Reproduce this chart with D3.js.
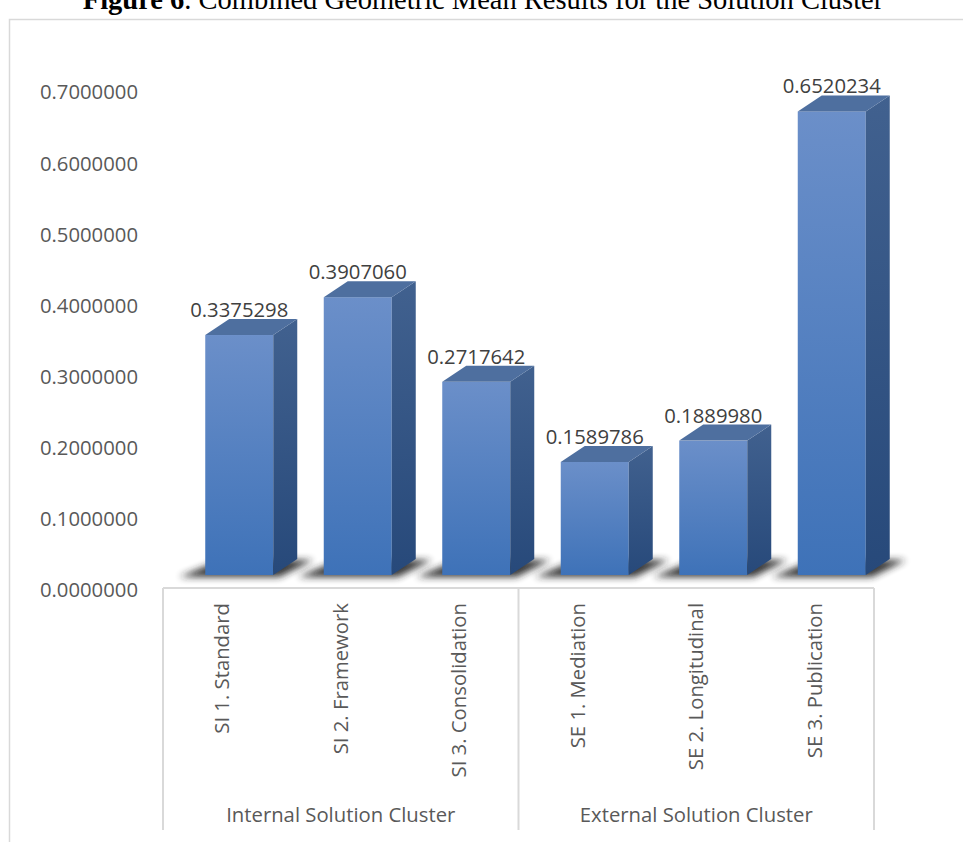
<!DOCTYPE html>
<html>
<head>
<meta charset="utf-8">
<script src="https://cdn.jsdelivr.net/npm/d3@7"></script>
<style>
  html, body { margin: 0; padding: 0; background: #fff; }
  svg { display: block; }
  .lbl { font-family: "Open Sans", Calibri, sans-serif; }
</style>
</head>
<body>
<svg id="chart" width="963" height="842"></svg>
<script>
const categories = ["SI 1. Standard", "SI 2. Framework", "SI 3. Consolidation",
                    "SE 1. Mediation", "SE 2. Longitudinal", "SE 3. Publication"];
const values = [0.3375298, 0.3907060, 0.2717642, 0.1589786, 0.1889980, 0.6520234];
const groups = ["Internal Solution Cluster", "External Solution Cluster"];
const groupOf = [0, 0, 0, 1, 1, 1];
const yTicks = [0, 0.1, 0.2, 0.3, 0.4, 0.5, 0.6, 0.7];

const svg = d3.select('#chart');
const fontSize = '20.3px';

// title, mostly cut off at the top of the picture
const title = svg.append('text')
  .attr('x', 483).attr('y', 9)
  .attr('text-anchor', 'middle')
  .style('font-family', '"Liberation Serif", "Times New Roman", serif')
  .style('font-size', '28.5px')
  .attr('fill', '#000');
title.append('tspan').style('font-weight', 'bold').text('Figure 6');
title.append('tspan').text('. Combined Geometric Mean Results for the Solution Cluster');

// chart frame
svg.append('rect')
  .attr('x', 9.5).attr('y', 19.5)
  .attr('width', 1000).attr('height', 900)
  .attr('fill', 'none').attr('stroke', '#d9d9d9').attr('stroke-width', 1.5);

const x = d3.scaleBand().domain(categories).range([163, 874]).paddingInner(0).paddingOuter(0);
const y = d3.scaleLinear().domain([0, 0.7]).range([590, 92.3]);

// y axis labels
svg.append('g').selectAll('text')
  .data(yTicks)
  .enter().append('text')
  .attr('class', 'lbl')
  .attr('x', 138)
  .attr('y', d => y(d))
  .attr('dy', '0.35em')
  .attr('text-anchor', 'end')
  .style('font-size', fontSize)
  .attr('fill', '#595959')
  .text(d => d3.format('.7f')(d));

// 3D bar geometry
const frontShift = -15;   // front face sits above the label plane
const barW = 68;
const dx = 24, dy = -16;  // depth offset
const off = 17;           // bars drawn right of band centre

const defs = svg.append('defs');
const gFront = defs.append('linearGradient').attr('id', 'gFront')
  .attr('x1', 0).attr('y1', 0).attr('x2', 0).attr('y2', 1);
gFront.append('stop').attr('offset', '0%').attr('stop-color', '#6b8fc9');
gFront.append('stop').attr('offset', '100%').attr('stop-color', '#3e72b8');
const gSide = defs.append('linearGradient').attr('id', 'gSide')
  .attr('x1', 0).attr('y1', 0).attr('x2', 0).attr('y2', 1);
gSide.append('stop').attr('offset', '0%').attr('stop-color', '#41618f');
gSide.append('stop').attr('offset', '100%').attr('stop-color', '#27497a');
defs.append('filter').attr('id', 'blur')
  .attr('x', '-50%').attr('y', '-50%').attr('width', '200%').attr('height', '200%')
  .append('feGaussianBlur').attr('stdDeviation', 3.5);

const bars = categories.map((c, i) => {
  const left = x(c) + x.bandwidth() / 2 + off - barW / 2;
  return {c, v: values[i], left, right: left + barW,
          top: y(values[i]) + frontShift, bottom: y(0) + frontShift};
});

// floor shadows
svg.append('g').selectAll('path')
  .data(bars)
  .enter().append('path')
  .attr('d', b => `M${b.left - 26},${b.bottom + 2} L${b.right + 6},${b.bottom + 2}
                   L${b.right + dx + 16},${b.bottom + dy + 1} L${b.left + dx - 8},${b.bottom + dy + 1}Z`)
  .attr('fill', '#222')
  .attr('opacity', 0.9)
  .attr('filter', 'url(#blur)');

const bar = svg.append('g').selectAll('g')
  .data(bars)
  .enter().append('g');

bar.append('rect')
  .attr('x', b => b.left).attr('y', b => b.top)
  .attr('width', barW).attr('height', b => b.bottom - b.top)
  .attr('fill', 'url(#gFront)');

bar.append('path')
  .attr('d', b => `M${b.right},${b.top} L${b.right + dx},${b.top + dy}
                   L${b.right + dx},${b.bottom + dy} L${b.right},${b.bottom}Z`)
  .attr('fill', 'url(#gSide)');

bar.append('path')
  .attr('d', b => `M${b.left},${b.top} L${b.left + dx},${b.top + dy}
                   L${b.right + dx},${b.top + dy} L${b.right},${b.top}Z`)
  .attr('fill', '#4e6f9f');

// value labels
bar.append('text')
  .attr('class', 'lbl')
  .attr('x', b => (b.left + b.right) / 2)
  .attr('y', b => b.top + dy - 2)
  .attr('text-anchor', 'middle')
  .style('font-size', fontSize)
  .attr('fill', '#404040')
  .text(b => b.v.toFixed(7));

// category axis: line, separators, labels
const axis = svg.append('g').attr('stroke', '#d9d9d9').attr('stroke-width', 2);
axis.append('line').attr('x1', 163).attr('x2', 874).attr('y1', 588).attr('y2', 588);
const seps = [x(categories[0]), x(categories[3]), x(categories[5]) + x.bandwidth()];
axis.selectAll('line.sep')
  .data(seps)
  .enter().append('line')
  .attr('class', 'sep')
  .attr('x1', d => d).attr('x2', d => d)
  .attr('y1', 588).attr('y2', 830);

svg.append('g').selectAll('text')
  .data(categories)
  .enter().append('text')
  .attr('class', 'lbl')
  .attr('transform', d => `translate(${x(d) + x.bandwidth() / 2},603) rotate(-90)`)
  .attr('dy', '0.35em')
  .attr('text-anchor', 'end')
  .style('font-size', fontSize)
  .attr('fill', '#595959')
  .text(d => d);

svg.append('g').selectAll('text')
  .data(groups)
  .enter().append('text')
  .attr('class', 'lbl')
  .attr('x', (g, gi) => {
    const idx = categories.filter((c, i) => groupOf[i] === gi);
    return (x(idx[0]) + x(idx[idx.length - 1]) + x.bandwidth()) / 2;
  })
  .attr('y', 822)
  .attr('text-anchor', 'middle')
  .style('font-size', fontSize)
  .attr('fill', '#595959')
  .text(d => d);
</script>
</body>
</html>
